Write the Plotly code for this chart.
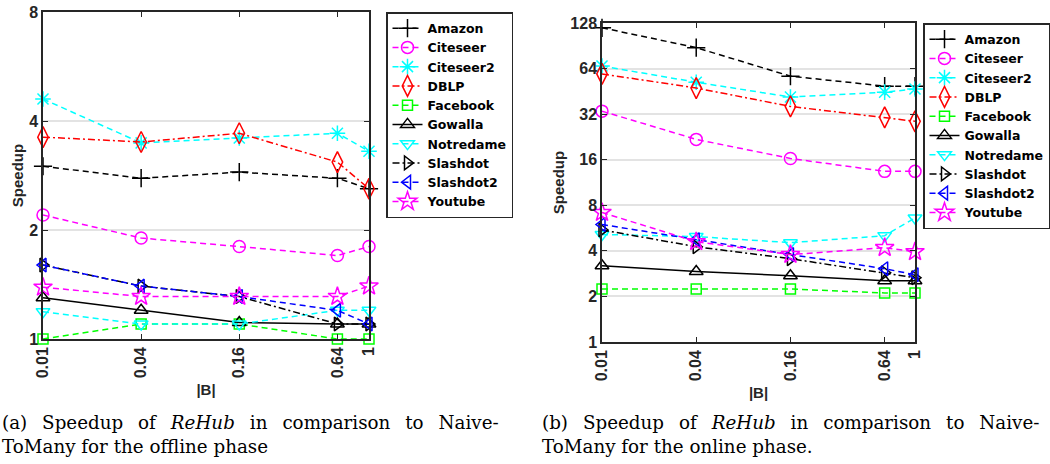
import plotly.graph_objects as go

B = [0.01, 0.04, 0.16, 0.64, 1]
B_labels = ["0.01", "0.04", "0.16", "0.64", "1"]
names = ["Amazon", "Citeseer", "Citeseer2", "DBLP", "Facebook", "Gowalla",
         "Notredame", "Slashdot", "Slashdot2", "Youtube"]

# offline phase speedup
amazon_off = [3.0, 2.78, 2.89, 2.78, 2.6]
citeseer_off = [2.2, 1.9, 1.8, 1.7, 1.8]
citeseer2_off = [4.6, 3.48, 3.59, 3.7, 3.3]
dblp_off = [3.61, 3.5, 3.7, 3.08, 2.6]
facebook_off = [1.0, 1.1, 1.1, 1.0, 1.0]
gowalla_off = [1.3, 1.2, 1.11, 1.1, 1.1]
notredame_off = [1.19, 1.1, 1.1, 1.2, 1.2]
slashdot_off = [1.6, 1.4, 1.31, 1.1, 1.1]
slashdot2_off = [1.6, 1.4, 1.31, 1.2, 1.1]
youtube_off = [1.39, 1.31, 1.31, 1.31, 1.4]

# online phase speedup
amazon_on = [119, 88, 57, 49, 49]
citeseer_on = [33.5, 21.8, 16.3, 13.4, 13.4]
citeseer2_on = [66.5, 52, 41.5, 44.7, 46.9]
dblp_on = [59, 47.6, 36, 30.5, 28.7]
facebook_on = [2.24, 2.24, 2.24, 2.11, 2.11]
gowalla_on = [3.19, 2.92, 2.74, 2.54, 2.54]
notredame_on = [5.13, 4.97, 4.53, 5.04, 6.6]
slashdot_on = [5.5, 4.26, 3.55, 2.87, 2.66]
slashdot2_on = [5.97, 4.74, 3.78, 3.05, 2.78]
youtube_on = [7.17, 4.6, 3.78, 4.2, 3.95]

left_ticks = [1, 2, 4, 8]
right_ticks = [1, 2, 4, 8, 16, 32, 64, 128]

offline = [amazon_off, citeseer_off, citeseer2_off, dblp_off, facebook_off,
           gowalla_off, notredame_off, slashdot_off, slashdot2_off, youtube_off]
online = [amazon_on, citeseer_on, citeseer2_on, dblp_on, facebook_on,
          gowalla_on, notredame_on, slashdot_on, slashdot2_on, youtube_on]

DASH = "6px,4px"
DASHDOT = "7px,3px,2px,3px"
styles = [
    dict(color="#000000", dash=DASH, symbol="cross-thin-open", size=13),
    dict(color="#ff00ff", dash=DASH, symbol="circle-open", size=12),
    dict(color="#00ffff", dash=DASH, symbol="asterisk-open", size=13),
    dict(color="#ff0000", dash=DASHDOT, symbol="diamond-tall-open", size=15),
    dict(color="#00ff00", dash=DASH, symbol="square-open", size=10),
    dict(color="#000000", dash="solid", symbol="triangle-up-open", size=12),
    dict(color="#00ffff", dash=DASH, symbol="triangle-down-open", size=12),
    dict(color="#000000", dash=DASHDOT, symbol="triangle-right-open", size=12),
    dict(color="#0000ff", dash=DASH, symbol="triangle-left-open", size=12),
    dict(color="#ff00ff", dash=DASH, symbol="star-open", size=14),
]

fig = go.Figure()

for data, xa, ya, lg in [(offline, "x", "y", "legend"),
                         (online, "x2", "y2", "legend2")]:
    for name, vals, st in zip(names, data, styles):
        fig.add_trace(go.Scatter(
            x=B, y=vals, name=name, mode="lines+markers",
            xaxis=xa, yaxis=ya, legend=lg, cliponaxis=False,
            line=dict(color=st["color"], dash=st["dash"], width=1.5),
            marker=dict(symbol=st["symbol"], size=st["size"], color=st["color"],
                        line=dict(color=st["color"], width=1.5)),
        ))

AX = "#262626"
tickfont = dict(family="Liberation Sans", size=16, color=AX, weight="bold")
titlefont = dict(family="Liberation Sans", size=15, color=AX, weight="bold")

xcommon = dict(type="log", range=[-2, 0], tickvals=B, ticktext=B_labels,
               tickangle=-90, showline=True, linecolor=AX, linewidth=1.5,
               mirror="ticks", ticks="inside", ticklen=5, tickcolor=AX,
               showgrid=False, zeroline=False, tickfont=tickfont,
               automargin=False,
               title=dict(text="|B|", font=titlefont, standoff=7))

ycommon = dict(type="log", showline=True, linecolor=AX, linewidth=1.5,
               mirror="ticks", ticks="inside", ticklen=5, tickcolor=AX,
               showgrid=True, gridcolor="#e3e3e3", gridwidth=1.5,
               zeroline=False, tickfont=tickfont, automargin=False,
               title=dict(text="Speedup", font=titlefont, standoff=2))

legcommon = dict(yanchor="top", bgcolor="white",
                 bordercolor="#262626", borderwidth=1.5,
                 font=dict(family="DejaVu Sans", size=12.5, color="#000000",
                           weight="bold"),
                 tracegroupgap=0, itemsizing="trace")

fig.update_layout(
    width=1050, height=464,
    margin=dict(l=0, r=0, t=0, b=0),
    paper_bgcolor="white", plot_bgcolor="white",
    showlegend=True,
    xaxis=dict(domain=[43/1050, 369/1050], anchor="y", **xcommon),
    xaxis2=dict(domain=[602/1050, 915/1050], anchor="y2", **xcommon),
    yaxis=dict(domain=[(464-339)/464, (464-12)/464], anchor="x",
               range=[0, 0.90309], tickvals=left_ticks,
               ticktext=[str(t) for t in left_ticks], **ycommon),
    yaxis2=dict(domain=[(464-342)/464, (464-23)/464], anchor="x2",
                range=[0, 2.10721], tickvals=right_ticks,
                ticktext=[str(t) for t in right_ticks], **ycommon),
    legend=dict(x=386/1050, y=(464-12)/464, xanchor="left", **legcommon),
    legend2=dict(x=1.0, y=(464-23)/464, xanchor="right", **legcommon),
)

SP = "\u2002 "
capfont = dict(family="DejaVu Serif", size=18.3, color="#000000")
line1a = SP.join(["(a)", "Speedup", "of", "<i>ReHub</i>", "in", "comparison", "to", "Naive-"])
line1b = SP.join(["(b)", "Speedup", "of", "<i>ReHub</i>", "in", "comparison", "to", "Naive-"])
captions = [
    (0, line1a, 422),
    (0, "ToMany for the offline phase", 446),
    (540, line1b, 422),
    (540, "ToMany for the online phase.", 446),
]
for x0, txt, yc in captions:
    fig.add_annotation(x=x0/1050, y=(464-yc)/464, xref="paper", yref="paper",
                       xanchor="left", yanchor="middle", text=txt,
                       showarrow=False, font=capfont, align="left")

fig.write_html("out.html")
